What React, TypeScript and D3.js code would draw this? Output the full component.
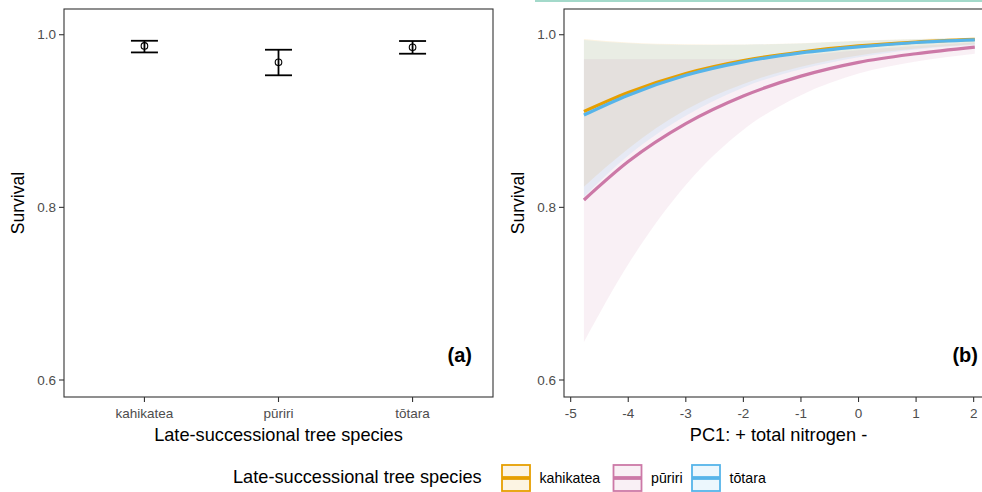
import React, { useRef, useEffect } from "react";
import { select, scaleLinear, scalePoint, line, area, curveMonotoneX } from "d3";

// panel (a): survival by species
const species = ["kahikatea", "pūriri", "tōtara"];
const speciesColors = ["#E69F00", "#CC79A7", "#56B4E9"];
const meanSurvival = [0.987, 0.968, 0.9855];
const lowerSurvival = [0.9795, 0.953, 0.978];
const upperSurvival = [0.993, 0.9826, 0.9927];
const yTicks = [0.6, 0.8, 1.0];

// panel (b): fitted survival along PC1
const pc1 = [-4.77, -4, -3, -2, -1, 0, 1, 2.02];
const pc1Ticks = [-5, -4, -3, -2, -1, 0, 1, 2];
const fitKahikatea = [0.911, 0.933, 0.955, 0.97, 0.98, 0.987, 0.9915, 0.9945];
const fitPuriri = [0.8085, 0.853, 0.897, 0.929, 0.952, 0.968, 0.978, 0.9857];
const fitTotara = [0.907, 0.93, 0.953, 0.9685, 0.979, 0.986, 0.991, 0.994];
const lowKahikatea = [0.824, 0.868, 0.913, 0.943, 0.963, 0.976, 0.984, 0.989];
const highKahikatea = [0.995, 0.991, 0.989, 0.9888, 0.99, 0.993, 0.995, 0.9965];
const lowPuriri = [0.644, 0.734, 0.826, 0.89, 0.93, 0.955, 0.969, 0.978];
const highPuriri = [0.9715, 0.9715, 0.9715, 0.972, 0.976, 0.982, 0.987, 0.991];
const lowTotara = [0.812, 0.86, 0.906, 0.939, 0.96, 0.974, 0.983, 0.988];
const highTotara = [0.994, 0.99, 0.988, 0.9885, 0.9898, 0.9928, 0.9948, 0.9962];

const font = "'Liberation Sans', Arial, sans-serif";

function App() {
  const svgRef = useRef(null);

  useEffect(() => {
    const svg = select(svgRef.current);
    svg.selectAll("*").remove();

    const top = 9;
    const bottom = 397;
    const yScale = scaleLinear().domain([0.5803, 1.0298]).range([bottom, top]);

    // top strip
    svg.append("rect").attr("x", 535).attr("y", 0).attr("width", 447).attr("height", 2).attr("fill", "#a3d9ca");

    const drawYAxis = (g, left) => {
      yTicks.forEach((t) => {
        g.append("line")
          .attr("x1", left - 5).attr("x2", left)
          .attr("y1", yScale(t)).attr("y2", yScale(t))
          .attr("stroke", "#333").attr("stroke-width", 1.1);
        g.append("text")
          .attr("x", left - 8).attr("y", yScale(t))
          .attr("dy", "0.35em").attr("text-anchor", "end")
          .attr("font-size", 13.5).attr("fill", "#4d4d4d")
          .text(t.toFixed(1));
      });
      g.append("text")
        .attr("transform", `translate(${left - 40},${(top + bottom) / 2}) rotate(-90)`)
        .attr("text-anchor", "middle").attr("font-size", 17.5).attr("fill", "#000")
        .text("Survival");
    };

    // ---- panel (a)
    const a = svg.append("g").attr("font-family", font);
    const aLeft = 64, aRight = 493;
    const xBand = scalePoint().domain(species).range([aLeft, aRight]).padding(0.6);

    drawYAxis(a, aLeft);
    species.forEach((s, i) => {
      const x = xBand(s);
      a.append("line").attr("x1", x).attr("x2", x)
        .attr("y1", yScale(upperSurvival[i])).attr("y2", yScale(lowerSurvival[i]))
        .attr("stroke", "#000").attr("stroke-width", 1.8);
      [upperSurvival[i], lowerSurvival[i]].forEach((v) => {
        a.append("line").attr("x1", x - 13.5).attr("x2", x + 13.5)
          .attr("y1", yScale(v)).attr("y2", yScale(v))
          .attr("stroke", "#000").attr("stroke-width", 1.8);
      });
      a.append("circle").attr("cx", x).attr("cy", yScale(meanSurvival[i])).attr("r", 3.3)
        .attr("fill", "none").attr("stroke", "#000").attr("stroke-width", 1.1);
      a.append("line").attr("x1", x).attr("x2", x).attr("y1", bottom).attr("y2", bottom + 5)
        .attr("stroke", "#333").attr("stroke-width", 1.1);
      a.append("text").attr("x", x).attr("y", bottom + 21).attr("text-anchor", "middle")
        .attr("font-size", 13.5).attr("fill", "#4d4d4d").text(s);
    });
    a.append("rect").attr("x", aLeft).attr("y", top).attr("width", aRight - aLeft).attr("height", bottom - top)
      .attr("fill", "none").attr("stroke", "#333").attr("stroke-width", 1.1);
    a.append("text").attr("x", (aLeft + aRight) / 2).attr("y", 441).attr("text-anchor", "middle")
      .attr("font-size", 18.2).text("Late-successional tree species");
    a.append("text").attr("x", aRight - 21).attr("y", 362).attr("text-anchor", "end")
      .attr("font-size", 20).attr("font-weight", "bold").text("(a)");

    // ---- panel (b)
    const b = svg.append("g").attr("font-family", font);
    const bLeft = 564, bRight = 993;
    const xScale = scaleLinear().domain([-5.116, 2.336]).range([bLeft, bRight]);

    drawYAxis(b, bLeft);
    const fits = [fitKahikatea, fitPuriri, fitTotara];
    const lows = [lowKahikatea, lowPuriri, lowTotara];
    const highs = [highKahikatea, highPuriri, highTotara];

    const ribbon = area()
      .x((d) => xScale(d[0]))
      .y0((d) => yScale(d[1]))
      .y1((d) => yScale(d[2]))
      .curve(curveMonotoneX);
    const fitLine = line()
      .x((d) => xScale(d[0]))
      .y((d) => yScale(d[1]))
      .curve(curveMonotoneX);

    species.forEach((s, i) => {
      b.append("path")
        .datum(pc1.map((x, j) => [x, lows[i][j], highs[i][j]]))
        .attr("d", ribbon).attr("fill", speciesColors[i]).attr("fill-opacity", 0.11);
    });
    species.forEach((s, i) => {
      b.append("path")
        .datum(pc1.map((x, j) => [x, fits[i][j]]))
        .attr("d", fitLine).attr("fill", "none")
        .attr("stroke", speciesColors[i]).attr("stroke-width", 3.2);
    });

    pc1Ticks.forEach((t) => {
      b.append("line").attr("x1", xScale(t)).attr("x2", xScale(t)).attr("y1", bottom).attr("y2", bottom + 5)
        .attr("stroke", "#333").attr("stroke-width", 1.1);
      b.append("text").attr("x", xScale(t)).attr("y", bottom + 21).attr("text-anchor", "middle")
        .attr("font-size", 13.5).attr("fill", "#4d4d4d").text(t);
    });
    b.append("rect").attr("x", bLeft).attr("y", top).attr("width", bRight - bLeft).attr("height", bottom - top)
      .attr("fill", "none").attr("stroke", "#333").attr("stroke-width", 1.1);
    b.append("text").attr("x", (bLeft + bRight) / 2).attr("y", 441).attr("text-anchor", "middle")
      .attr("font-size", 18.2).text("PC1: + total nitrogen -");
    b.append("text").attr("x", bRight - 15).attr("y", 362).attr("text-anchor", "end")
      .attr("font-size", 20).attr("font-weight", "bold").text("(b)");

    // ---- legend
    const lg = svg.append("g").attr("font-family", font);
    lg.append("text").attr("x", 233).attr("y", 483).attr("font-size", 18.2).text("Late-successional tree species");
    const keyX = [502, 613.5, 692];
    species.forEach((s, i) => {
      const kx = keyX[i];
      lg.append("rect").attr("x", kx).attr("y", 465).attr("width", 28).attr("height", 26)
        .attr("fill", speciesColors[i]).attr("fill-opacity", 0.11)
        .attr("stroke", speciesColors[i]).attr("stroke-width", 1.8);
      lg.append("line").attr("x1", kx).attr("x2", kx + 28).attr("y1", 478).attr("y2", 478)
        .attr("stroke", speciesColors[i]).attr("stroke-width", 3.8);
      lg.append("text").attr("x", kx + 37.5).attr("y", 483).attr("font-size", 14.2).attr("fill", "#000").text(s);
    });
  }, []);

  return (
    <svg
      ref={svgRef}
      width={982}
      height={492}
      style={{ position: "absolute", left: 0, top: 0, background: "#fff" }}
    />
  );
}

export default App;
